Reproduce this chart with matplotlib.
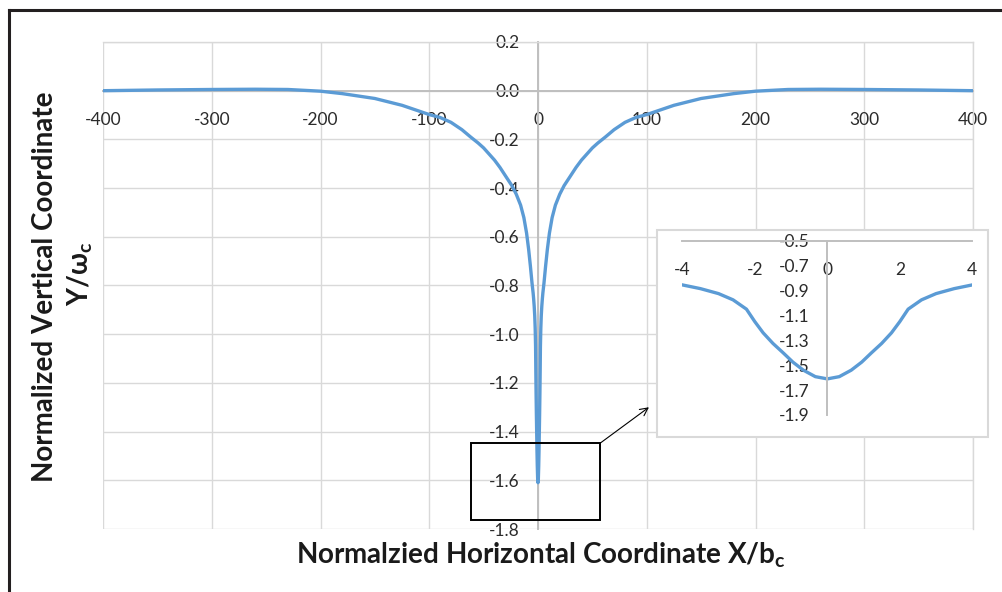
import matplotlib
matplotlib.use("Agg")
import matplotlib.pyplot as plt
from matplotlib.patches import Rectangle
from matplotlib.lines import Line2D

plt.rcParams['font.family'] = ['Lato', 'DejaVu Sans']
plt.rcParams['axes.unicode_minus'] = False
plt.rcParams['mathtext.fontset'] = 'custom'
plt.rcParams['mathtext.rm'] = 'Lato'
plt.rcParams['mathtext.bf'] = 'Lato:bold'

# normalized surface profile
x_norm = [-400, -350, -300, -260, -230, -200, -180, -150, -125, -100, -90, -80, -70, -62,
          -55, -50, -45, -40, -35, -29, -24, -20, -16, -13, -10.5, -8.6, -7, -5.5, -4.5,
          -4, -3.5, -3, -2.6, -2.23, -2.0, -1.77, -1.5, -1.22, -0.95, -0.66, -0.33, 0,
          0.33, 0.66, 0.95, 1.22, 1.5, 1.77, 2.0, 2.23, 2.6, 3, 3.5, 4,
          4.5, 5.5, 7, 8.6, 10.5, 13, 16, 20, 24, 29, 35, 40, 45, 50, 55,
          62, 70, 80, 90, 100, 125, 150, 180, 200, 230, 260, 300, 350, 400]
y_norm = [0.0, 0.003, 0.005, 0.006, 0.005, -0.002, -0.012, -0.032, -0.06, -0.098, -0.11, -0.13, -0.16, -0.19,
          -0.215, -0.235, -0.26, -0.285, -0.315, -0.356, -0.39, -0.425, -0.47, -0.521, -0.585, -0.652, -0.72, -0.79, -0.83,
          -0.855, -0.885, -0.925, -0.975, -1.05, -1.15, -1.24, -1.325, -1.40, -1.475, -1.54, -1.592, -1.61,
          -1.592, -1.54, -1.475, -1.40, -1.325, -1.24, -1.15, -1.05, -0.975, -0.925, -0.885, -0.855,
          -0.83, -0.79, -0.72, -0.652, -0.585, -0.521, -0.47, -0.425, -0.39, -0.356, -0.315, -0.285, -0.26, -0.235, -0.215,
          -0.19, -0.16, -0.13, -0.11, -0.098, -0.06, -0.032, -0.012, -0.002, 0.005, 0.006, 0.005, 0.003, 0.0]

main_xticks = [-400, -300, -200, -100, 0, 100, 200, 300, 400]
main_yticks = [0.2, 0.0, -0.2, -0.4, -0.6, -0.8, -1.0, -1.2, -1.4, -1.6, -1.8]
inset_xticks = [-4, -2, 0, 2, 4]
inset_yticks = [-0.5, -0.7, -0.9, -1.1, -1.3, -1.5, -1.7, -1.9]

# zoom box and arrow (data coords of the main chart)
box_x0, box_y0, box_w, box_h = -61.6, -1.765, 118.6, 0.317
arrow_from, arrow_to = (57, -1.448), (102, -1.30)

line_c = '#5B9BD5'
grid_c = '#D9D9D9'
axis_c = '#BFBFBF'
text_c = '#2b2b2b'

W, H = 1002, 592
fig = plt.figure(figsize=(W / 100, H / 100), dpi=100)

ax = fig.add_axes([103 / W, 1 - 529 / H, 870 / W, 487 / H])
ax.plot(x_norm, y_norm, color=line_c, lw=2.4, zorder=3, solid_joinstyle='round')
ax.set_xlim(-400, 400)
ax.set_ylim(-1.8, 0.2)
ax.set_xticks(main_xticks)
ax.set_xticklabels([str(v) for v in main_xticks])
ax.set_yticks(main_yticks)
ax.set_yticklabels(['%.1f' % v for v in main_yticks])
ax.grid(True, color=grid_c, lw=1.0)
ax.set_axisbelow(True)
for s in ['top', 'right']:
    ax.spines[s].set_color(grid_c)
    ax.spines[s].set_linewidth(1.0)
ax.spines['bottom'].set_position(('data', 0))
ax.spines['left'].set_position(('data', 0))
for s in ['bottom', 'left']:
    ax.spines[s].set_color(axis_c)
    ax.spines[s].set_linewidth(1.4)
ax.tick_params(axis='x', length=0, pad=15, labelsize=12.5, colors=text_c)
ax.tick_params(axis='y', length=0, pad=13, labelsize=12.5, colors=text_c)

ax.add_patch(Rectangle((box_x0, box_y0), box_w, box_h, fill=False, ec='black', lw=1.4, zorder=4))
ax.annotate('', xy=arrow_to, xytext=arrow_from,
            arrowprops=dict(arrowstyle='->', lw=0.8, color='black', shrinkA=0, shrinkB=0,
                            mutation_scale=14), zorder=4)

# inset frame
fig.add_artist(Rectangle((657 / W, 1 - 437 / H), 331 / W, 207 / H, transform=fig.transFigure,
                         fc='white', ec=grid_c, lw=1.5, zorder=2))

ins = fig.add_axes([682.3 / W, 1 - 415 / H, 290 / W, 174.3 / H], zorder=3)
ins.patch.set_alpha(0)
ins.plot(x_norm, y_norm, color=line_c, lw=2.4, solid_joinstyle='round')
ins.set_xlim(-4, 4)
ins.set_ylim(-1.9, -0.5)
ins.set_xticks(inset_xticks)
ins.set_xticklabels([str(v) for v in inset_xticks])
ins.set_yticks(inset_yticks)
ins.set_yticklabels(['%.1f' % v for v in inset_yticks])
for s in ['top', 'right']:
    ins.spines[s].set_visible(False)
ins.spines['bottom'].set_position(('data', -0.5))
ins.spines['left'].set_position(('data', 0))
for s in ['bottom', 'left']:
    ins.spines[s].set_color(axis_c)
    ins.spines[s].set_linewidth(1.4)
ins.tick_params(axis='x', length=0, pad=15, labelsize=12.5, colors=text_c)
ins.tick_params(axis='y', length=0, pad=13, labelsize=12.5, colors=text_c)

# axis titles
fig.text(541 / W, 1 - 555 / H, 'Normalzied Horizontal Coordinate X/b$_\\mathbf{c}$',
         ha='center', va='center', fontsize=20, fontweight='bold', color='#1a1a1a')
fig.text(45 / W, 1 - 287 / H, 'Normalized Vertical Coordinate',
         ha='center', va='center', rotation=90, fontsize=20, fontweight='bold', color='#1a1a1a')
fig.text(80 / W, 1 - 274 / H, 'Y/ω$_\\mathbf{c}$',
         ha='center', va='center', rotation=90, fontsize=20, fontweight='bold', color='#1a1a1a')

# outer border (top and left only)
fig.add_artist(Line2D([8.5 / W, 8.5 / W], [0, 1 - 10 / H], color='#231F20', lw=2.2,
                      transform=fig.transFigure))
fig.add_artist(Line2D([8.5 / W, 1], [1 - 10 / H, 1 - 10 / H], color='#231F20', lw=2.2,
                      transform=fig.transFigure))

fig.savefig('out.png', dpi=100)
